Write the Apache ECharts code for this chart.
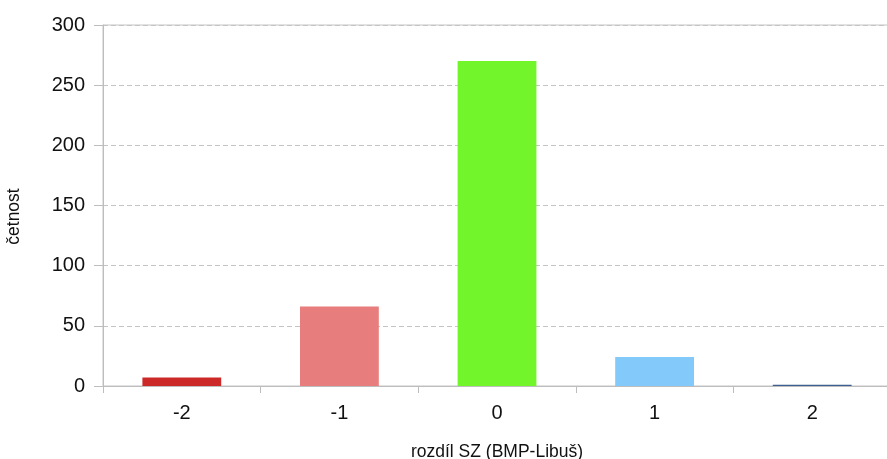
<!DOCTYPE html>
<html>
<head>
<meta charset="utf-8">
<script src="https://cdn.jsdelivr.net/npm/echarts@6/dist/echarts.min.js"></script>
<style>html,body{margin:0;padding:0;background:#fff}#c{width:887px;height:459px}</style>
</head>
<body>
<div id="c"></div>
<script>
const categories = ['-2', '-1', '0', '1', '2'];
const values = [7, 66, 270, 24, 1];
const barColors = ['#cc2929', '#e87d7d', '#72f52a', '#83c9fa', '#3d5f8f'];
const yTicks = [0, 50, 100, 150, 200, 250, 300];

const chart = echarts.init(document.getElementById('c'), null, {renderer: 'canvas'});
const font = 'Liberation Sans, Arial, Helvetica, sans-serif';
chart.setOption({
  animation: false,
  backgroundColor: '#fff',
  grid: {left: 103, top: 25, width: 788, height: 361, containLabel: false, outerBoundsMode: 'none',
         show: true, borderColor: '#c4c4c4', borderWidth: 1, backgroundColor: 'transparent'},
  xAxis: {
    type: 'category',
    data: categories,
    name: 'rozdíl SZ (BMP-Libuš)',
    nameLocation: 'middle',
    nameGap: 57,
    nameTextStyle: {fontFamily: font, fontSize: 17.5, color: '#111'},
    axisLine: {lineStyle: {color: '#bdbdbd', width: 1}},
    axisTick: {show: true, alignWithLabel: false, length: 7, lineStyle: {color: '#bdbdbd'}},
    axisLabel: {fontFamily: font, fontSize: 20, color: '#111', margin: 17},
    splitLine: {show: false}
  },
  yAxis: {
    type: 'value',
    min: yTicks[0],
    max: yTicks[yTicks.length - 1],
    interval: 50,
    name: 'četnost',
    nameLocation: 'middle',
    nameGap: 80,
    nameTextStyle: {fontFamily: font, fontSize: 17.5, color: '#111', padding: [0, 22, 0, 0]},
    axisLine: {show: true, lineStyle: {color: '#bdbdbd', width: 1}},
    axisTick: {show: true, inside: false, length: 9, lineStyle: {color: '#bdbdbd'}},
    axisLabel: {fontFamily: font, fontSize: 20, color: '#111', margin: 18},
    splitLine: {show: true, lineStyle: {color: '#c4c4c4', type: [5, 3], width: 1}}
  },
  series: [{
    type: 'bar',
    data: values.map((v, i) => ({value: v, itemStyle: {color: barColors[i]}})),
    barWidth: '50%'
  }]
});
</script>
</body>
</html>
